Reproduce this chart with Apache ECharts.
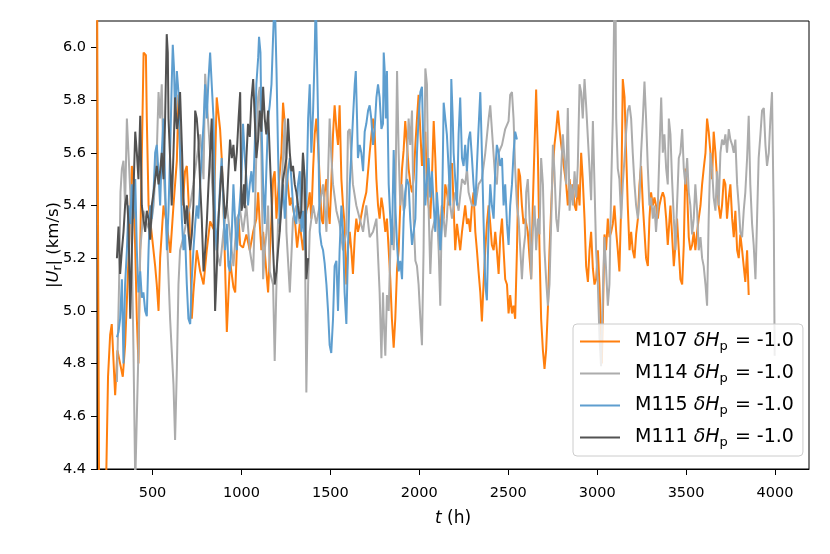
<!DOCTYPE html>
<html>
<head>
<meta charset="utf-8">
<script src="https://cdn.jsdelivr.net/npm/echarts@6/dist/echarts.min.js"></script>
<style>
html, body { margin: 0; padding: 0; background: #fff; }
#chart { width: 830px; height: 554px; }
</style>
</head>
<body>
<div id="chart"></div>
<script>
// [t (h), |U_r| (km/s)]
const m107 = [
  [188, 6.3], [200, 4.3], [238, 4.3], [250, 4.75], [262, 4.91], [271, 4.95], [290, 4.68], [303, 4.85], [318, 4.80], [333, 4.75],
  [346, 4.87], [356, 5.04], [374, 5.35], [384, 5.55], [393, 5.50], [403, 5.23], [412, 4.97], [421, 4.80], [435, 5.40], [450, 5.98],
  [463, 5.97], [468, 5.73], [478, 5.40], [496, 5.29], [515, 5.17], [524, 5.10], [534, 5.00], [543, 5.20], [562, 5.40], [580, 5.33],
  [600, 5.22], [618, 5.40], [637, 5.57], [646, 5.82], [655, 5.60], [670, 5.40], [683, 5.53], [693, 5.55], [708, 5.35], [721, 4.97],
  [730, 5.07], [749, 5.23], [768, 5.15], [787, 5.10], [805, 5.23], [824, 5.34], [843, 5.31], [861, 5.81], [880, 5.69], [890, 5.57],
  [899, 5.40], [908, 5.17], [918, 4.92], [927, 5.06], [936, 5.19], [955, 5.09], [965, 5.07], [974, 5.23], [984, 5.35], [993, 5.25],
  [1009, 5.24], [1028, 5.29], [1047, 5.23], [1066, 5.30], [1084, 5.35], [1094, 5.45], [1103, 5.33], [1112, 5.23], [1122, 5.30], [1140, 5.15],
  [1150, 5.07], [1169, 5.35], [1178, 5.50], [1187, 5.53], [1197, 5.35], [1206, 5.45], [1225, 5.60], [1234, 5.79], [1244, 5.71], [1253, 5.54],
  [1272, 5.40], [1281, 5.43], [1300, 5.35], [1313, 5.24], [1328, 5.33], [1346, 5.23], [1365, 5.38], [1375, 5.40], [1384, 5.45], [1393, 5.35],
  [1403, 5.54], [1412, 5.67], [1421, 5.73], [1431, 5.63], [1440, 5.50], [1450, 5.35], [1459, 5.33], [1468, 5.45], [1478, 5.50], [1487, 5.40],
  [1496, 5.33], [1505, 5.48], [1515, 5.67], [1524, 5.78], [1534, 5.69], [1543, 5.63], [1552, 5.78], [1562, 5.50], [1571, 5.40], [1580, 5.33],
  [1590, 5.10], [1599, 5.23], [1609, 5.30], [1618, 5.23], [1627, 5.14], [1637, 5.28], [1646, 5.35], [1655, 5.30], [1665, 5.33], [1684, 5.40],
  [1702, 5.45], [1721, 5.60], [1740, 5.73], [1749, 5.68], [1759, 5.50], [1768, 5.40], [1777, 5.35], [1787, 5.43], [1796, 5.39], [1809, 5.30],
  [1818, 5.35], [1828, 5.23], [1837, 5.12], [1846, 4.97], [1856, 4.86], [1865, 4.97], [1875, 5.16], [1884, 5.23], [1893, 5.40], [1903, 5.54],
  [1912, 5.61], [1921, 5.72], [1931, 5.63], [1940, 5.54], [1950, 5.48], [1959, 5.45], [1968, 5.50], [1978, 5.63], [1987, 5.73], [1996, 5.82],
  [2006, 5.68], [2015, 5.55], [2024, 5.63], [2034, 5.68], [2043, 5.48], [2052, 5.40], [2062, 5.35], [2071, 5.50], [2081, 5.72], [2090, 5.58],
  [2099, 5.40], [2109, 5.35], [2118, 5.30], [2127, 5.40], [2137, 5.35], [2146, 5.48], [2155, 5.45], [2165, 5.40], [2174, 5.55], [2184, 5.56],
  [2193, 5.40], [2202, 5.23], [2212, 5.33], [2221, 5.28], [2230, 5.23], [2240, 5.30], [2249, 5.35], [2258, 5.40], [2268, 5.33], [2277, 5.35],
  [2286, 5.30], [2296, 5.40], [2305, 5.45], [2315, 5.30], [2324, 5.23], [2333, 5.15], [2343, 5.07], [2352, 4.96], [2361, 5.10], [2371, 5.23],
  [2380, 5.33], [2390, 5.40], [2399, 5.33], [2408, 5.25], [2418, 5.23], [2427, 5.30], [2436, 5.23], [2446, 5.14], [2455, 5.28], [2465, 5.35],
  [2474, 5.23], [2483, 5.12], [2493, 5.10], [2502, 4.99], [2511, 5.06], [2521, 4.99], [2530, 5.02], [2539, 4.97], [2549, 5.23], [2558, 5.54],
  [2567, 5.51], [2577, 5.40], [2586, 5.33], [2596, 5.35], [2610, 5.30], [2620, 5.20], [2629, 5.12], [2638, 5.40], [2648, 5.63], [2657, 5.84],
  [2667, 5.58], [2676, 5.23], [2685, 4.97], [2695, 4.85], [2704, 4.78], [2713, 4.85], [2723, 5.01], [2732, 5.23], [2742, 5.40], [2751, 5.54],
  [2760, 5.63], [2770, 5.69], [2779, 5.76], [2788, 5.69], [2798, 5.63], [2807, 5.58], [2816, 5.53], [2826, 5.48], [2835, 5.40], [2845, 5.50],
  [2854, 5.43], [2863, 5.48], [2873, 5.40], [2882, 5.38], [2891, 5.48], [2901, 5.40], [2910, 5.60], [2919, 5.50], [2929, 5.35], [2938, 5.17],
  [2948, 5.11], [2957, 5.23], [2966, 5.30], [2976, 5.16], [2985, 5.10], [2994, 5.12], [3004, 5.23], [3013, 5.10], [3022, 4.91], [3026, 4.80],
  [3032, 4.97], [3041, 5.29], [3050, 5.23], [3060, 5.35], [3069, 5.28], [3079, 5.30], [3088, 5.33], [3097, 5.40], [3107, 5.30], [3116, 5.23],
  [3125, 5.15], [3135, 5.40], [3144, 5.88], [3154, 5.81], [3163, 5.60], [3172, 5.40], [3182, 5.23], [3191, 5.30], [3200, 5.23], [3210, 5.20],
  [3219, 5.29], [3229, 5.35], [3238, 5.48], [3247, 5.55], [3257, 5.40], [3266, 5.40], [3275, 5.20], [3285, 5.17], [3294, 5.35], [3303, 5.45],
  [3313, 5.40], [3322, 5.43], [3331, 5.40], [3341, 5.35], [3350, 5.40], [3360, 5.43], [3369, 5.45], [3378, 5.43], [3388, 5.35], [3397, 5.25],
  [3412, 5.40], [3421, 5.29], [3431, 5.17], [3440, 5.25], [3449, 5.35], [3459, 5.23], [3468, 5.12], [3478, 5.10], [3487, 5.25], [3496, 5.54],
  [3506, 5.45], [3515, 5.28], [3524, 5.23], [3534, 5.25], [3543, 5.30], [3552, 5.23], [3562, 5.30], [3571, 5.35], [3581, 5.40], [3590, 5.48],
  [3599, 5.54], [3609, 5.60], [3618, 5.73], [3627, 5.68], [3637, 5.60], [3646, 5.50], [3655, 5.68], [3665, 5.60], [3674, 5.50], [3683, 5.40],
  [3693, 5.35], [3702, 5.40], [3712, 5.50], [3721, 5.48], [3730, 5.35], [3740, 5.43], [3749, 5.48], [3759, 5.35], [3768, 5.28], [3777, 5.38],
  [3787, 5.23], [3796, 5.20], [3805, 5.29], [3815, 5.23], [3824, 5.17], [3833, 5.11], [3843, 5.23], [3852, 5.06]
];

const m114 = [
  [300, 4.73], [312, 5.10], [320, 5.45], [328, 5.54], [337, 5.57], [346, 5.40], [356, 5.73], [365, 5.60], [375, 5.45], [384, 5.23],
  [393, 4.85], [403, 4.35], [412, 4.35], [421, 4.85], [431, 5.23], [449, 5.38], [468, 5.33], [487, 5.30], [506, 5.40], [524, 5.60],
  [534, 5.83], [543, 5.73], [552, 5.86], [562, 5.54], [581, 5.29], [599, 4.97], [618, 4.72], [627, 4.51], [637, 4.78], [646, 5.10],
  [655, 5.23], [674, 5.28], [693, 5.35], [712, 5.40], [730, 5.48], [749, 5.58], [768, 5.67], [787, 5.50], [796, 5.90], [805, 5.80],
  [824, 5.60], [843, 5.40], [861, 5.23], [880, 5.17], [899, 5.30], [918, 5.40], [936, 5.29], [955, 5.17], [974, 5.35], [993, 5.38],
  [1009, 5.30], [1028, 5.40], [1047, 5.23], [1066, 5.15], [1075, 5.35], [1084, 5.60], [1094, 5.81], [1103, 5.85], [1112, 5.60], [1122, 5.12],
  [1131, 5.23], [1140, 5.29], [1150, 5.40], [1159, 5.15], [1178, 5.10], [1187, 4.81], [1197, 5.10], [1206, 5.35], [1215, 5.30], [1234, 5.58],
  [1244, 5.73], [1253, 5.30], [1272, 5.07], [1290, 5.35], [1309, 5.40], [1328, 5.33], [1346, 5.60], [1356, 5.35], [1365, 4.69], [1375, 5.10],
  [1384, 5.30], [1403, 5.40], [1421, 5.33], [1440, 5.40], [1459, 5.48], [1478, 5.30], [1496, 5.73], [1506, 5.58], [1515, 5.48], [1534, 5.38],
  [1552, 5.33], [1571, 5.23], [1590, 5.30], [1599, 5.68], [1609, 5.69], [1627, 5.48], [1646, 5.40], [1665, 5.35], [1684, 5.30], [1702, 5.40],
  [1721, 5.28], [1740, 5.30], [1759, 5.35], [1777, 5.07], [1787, 4.82], [1796, 5.07], [1800, 4.97], [1809, 4.83], [1818, 5.06], [1828, 5.00],
  [1837, 5.23], [1846, 5.35], [1856, 5.23], [1865, 5.40], [1875, 5.91], [1884, 5.60], [1893, 5.40], [1903, 5.48], [1912, 5.38], [1921, 5.40],
  [1931, 5.58], [1940, 5.73], [1949, 5.63], [1959, 5.76], [1968, 5.35], [1978, 5.19], [1987, 5.17], [1996, 5.10], [2006, 4.97], [2015, 4.87],
  [2024, 5.23], [2034, 5.92], [2043, 5.86], [2052, 5.40], [2062, 5.14], [2071, 5.30], [2081, 5.33], [2090, 5.33], [2099, 5.38], [2109, 5.23],
  [2118, 5.02], [2127, 5.40], [2137, 5.35], [2146, 5.28], [2155, 5.35], [2165, 5.48], [2174, 5.40], [2184, 5.35], [2193, 5.40], [2202, 5.45],
  [2221, 5.38], [2240, 5.50], [2258, 5.48], [2268, 5.54], [2277, 5.45], [2296, 5.40], [2315, 5.40], [2333, 5.48], [2352, 5.50], [2371, 5.60],
  [2390, 5.73], [2399, 5.78], [2408, 5.69], [2427, 5.50], [2436, 5.48], [2446, 5.60], [2465, 5.63], [2483, 5.69], [2502, 5.72], [2511, 5.82],
  [2521, 5.83], [2530, 5.73], [2539, 5.54], [2549, 5.40], [2558, 5.35], [2568, 5.23], [2577, 5.12], [2586, 5.23], [2596, 5.29], [2601, 5.45],
  [2610, 5.50], [2620, 5.35], [2629, 5.12], [2638, 5.30], [2648, 5.40], [2657, 5.23], [2667, 5.35], [2676, 5.29], [2685, 5.58], [2695, 5.48],
  [2704, 5.23], [2713, 5.12], [2723, 5.02], [2732, 5.10], [2742, 5.35], [2751, 5.63], [2760, 5.53], [2770, 5.35], [2779, 5.30], [2788, 5.40],
  [2798, 5.54], [2807, 5.67], [2816, 5.58], [2826, 5.48], [2835, 5.77], [2845, 5.38], [2854, 5.48], [2863, 5.40], [2873, 5.53], [2882, 5.43],
  [2891, 5.55], [2901, 5.86], [2910, 5.83], [2919, 5.73], [2929, 5.88], [2938, 5.78], [2948, 5.78], [2957, 5.54], [2966, 5.42], [2976, 5.72],
  [2985, 5.48], [2994, 5.23], [3004, 5.10], [3013, 4.90], [3022, 4.79], [3032, 5.07], [3041, 5.28], [3050, 5.16], [3060, 5.02], [3069, 5.10],
  [3079, 5.48], [3088, 5.73], [3097, 6.20], [3103, 6.25], [3107, 5.73], [3116, 5.54], [3125, 5.50], [3135, 5.35], [3144, 5.48], [3154, 5.58],
  [3163, 5.68], [3172, 5.76], [3182, 5.78], [3191, 5.73], [3200, 5.60], [3210, 5.48], [3219, 5.40], [3229, 5.35], [3238, 5.43], [3247, 5.60],
  [3257, 5.73], [3266, 5.87], [3275, 5.73], [3285, 5.54], [3294, 5.40], [3303, 5.43], [3313, 5.35], [3322, 5.40], [3331, 5.30], [3341, 5.40],
  [3350, 5.60], [3360, 5.81], [3369, 5.60], [3378, 5.67], [3388, 5.54], [3397, 5.48], [3403, 5.73], [3412, 5.67], [3421, 5.50], [3431, 5.35],
  [3440, 5.23], [3449, 5.40], [3459, 5.58], [3468, 5.60], [3478, 5.69], [3487, 5.54], [3496, 5.48], [3506, 5.58], [3515, 5.45], [3524, 5.40],
  [3534, 5.29], [3543, 5.35], [3552, 5.48], [3562, 5.38], [3571, 5.23], [3581, 5.28], [3590, 5.20], [3599, 5.17], [3609, 5.10], [3618, 5.02],
  [3627, 5.35], [3637, 5.60], [3646, 5.54], [3655, 5.43], [3665, 5.38], [3674, 5.53], [3683, 5.40], [3693, 5.60], [3702, 5.65], [3712, 5.63],
  [3721, 5.67], [3730, 5.60], [3740, 5.69], [3749, 5.65], [3759, 5.63], [3768, 5.60], [3777, 5.65], [3787, 5.48], [3796, 5.40], [3805, 5.30],
  [3815, 5.28], [3824, 5.38], [3833, 5.45], [3843, 5.58], [3852, 5.74], [3861, 5.48], [3871, 5.33], [3880, 5.25], [3890, 5.12], [3899, 5.35],
  [3908, 5.58], [3918, 5.67], [3927, 5.76], [3937, 5.77], [3946, 5.63], [3955, 5.55], [3965, 5.60], [3974, 5.73], [3983, 5.83], [3993, 5.35],
  [3998, 4.83]
];

const m115 = [
  [300, 4.90], [309, 4.92], [318, 4.97], [328, 5.12], [337, 4.80], [346, 5.10], [356, 5.23], [365, 5.40], [375, 5.33], [384, 5.48],
  [393, 5.35], [403, 5.50], [412, 5.23], [421, 5.07], [431, 5.15], [440, 5.05], [449, 5.07], [459, 5.00], [468, 4.98], [478, 5.23],
  [487, 5.40], [496, 5.35], [506, 5.45], [515, 5.60], [524, 5.63], [534, 5.52], [543, 5.40], [552, 5.60], [562, 5.73], [571, 5.48],
  [581, 5.23], [590, 5.38], [599, 5.60], [608, 5.86], [614, 6.01], [621, 5.92], [627, 5.73], [637, 5.91], [646, 5.83], [655, 5.60],
  [665, 5.35], [674, 5.23], [683, 5.29], [693, 5.10], [702, 4.97], [712, 4.95], [721, 5.12], [730, 5.23], [740, 5.33], [749, 5.40],
  [758, 5.35], [768, 5.48], [777, 5.60], [787, 5.71], [796, 5.86], [805, 5.73], [815, 5.88], [824, 5.98], [833, 5.86], [843, 5.73],
  [852, 5.35], [861, 5.23], [871, 5.35], [880, 5.48], [889, 5.58], [899, 5.40], [908, 5.23], [918, 5.33], [927, 5.17], [936, 5.15],
  [946, 5.30], [955, 5.48], [965, 5.33], [974, 5.23], [984, 5.35], [993, 5.43], [1000, 5.50], [1009, 5.71], [1019, 5.58], [1028, 5.50],
  [1037, 5.40], [1047, 5.48], [1056, 5.53], [1066, 5.45], [1075, 5.63], [1084, 5.86], [1094, 5.96], [1099, 6.04], [1107, 5.98], [1112, 5.73],
  [1122, 5.48], [1131, 5.33], [1140, 5.53], [1150, 5.73], [1159, 5.78], [1169, 5.86], [1178, 6.04], [1187, 6.20], [1197, 5.92], [1206, 5.60],
  [1215, 5.33], [1225, 5.40], [1234, 5.48], [1244, 5.35], [1253, 5.45], [1262, 5.53], [1272, 5.58], [1281, 5.50], [1290, 5.40], [1300, 5.35],
  [1309, 5.33], [1318, 5.48], [1328, 5.53], [1337, 5.30], [1346, 5.38], [1356, 5.23], [1365, 5.40], [1375, 5.73], [1384, 5.86], [1393, 5.60],
  [1403, 5.76], [1412, 5.98], [1418, 6.20], [1425, 6.20], [1431, 5.73], [1440, 5.30], [1450, 5.25], [1459, 5.23], [1468, 5.18], [1478, 5.10],
  [1487, 5.00], [1496, 4.87], [1505, 4.84], [1515, 4.97], [1524, 5.17], [1534, 5.19], [1543, 5.00], [1552, 5.23], [1562, 5.40], [1571, 5.30],
  [1580, 5.07], [1590, 4.95], [1599, 5.23], [1609, 5.48], [1618, 5.60], [1627, 5.73], [1637, 5.86], [1643, 5.91], [1650, 5.73], [1655, 5.58],
  [1665, 5.63], [1674, 5.60], [1684, 5.53], [1693, 5.68], [1702, 5.71], [1712, 5.76], [1721, 5.78], [1730, 5.73], [1740, 5.63], [1749, 5.69],
  [1759, 5.81], [1768, 5.86], [1777, 5.81], [1787, 5.69], [1796, 5.71], [1800, 5.98], [1805, 5.92], [1812, 5.73], [1818, 5.91], [1828, 5.48],
  [1837, 5.35], [1846, 5.25], [1856, 5.61], [1865, 5.40], [1875, 5.25], [1884, 5.15], [1893, 5.19], [1903, 5.12], [1912, 5.35], [1921, 5.45],
  [1931, 5.50], [1940, 5.48], [1949, 5.35], [1959, 5.25], [1968, 5.30], [1978, 5.35], [1987, 5.60], [1996, 5.73], [2006, 5.83], [2015, 5.85],
  [2024, 5.60], [2034, 5.40], [2043, 5.50], [2052, 5.58], [2062, 5.43], [2071, 5.53], [2081, 5.40], [2090, 5.30], [2099, 5.45], [2109, 5.35],
  [2118, 5.23], [2127, 5.33], [2137, 5.79], [2146, 5.73], [2155, 5.67], [2165, 5.54], [2174, 5.40], [2180, 5.88], [2188, 5.73], [2193, 5.60],
  [2202, 5.50], [2212, 5.40], [2221, 5.67], [2230, 5.81], [2240, 5.58], [2249, 5.55], [2258, 5.63], [2268, 5.53], [2277, 5.65], [2286, 5.68],
  [2296, 5.58], [2305, 5.48], [2315, 5.40], [2324, 5.55], [2333, 5.69], [2343, 5.83], [2352, 5.60], [2361, 5.35], [2371, 5.10], [2380, 5.04],
  [2390, 5.33], [2399, 5.48], [2408, 5.40], [2418, 5.35], [2427, 5.53], [2436, 5.63], [2446, 5.60], [2455, 5.55], [2465, 5.58], [2474, 5.40],
  [2483, 5.48], [2493, 5.33], [2502, 5.25], [2511, 5.40], [2521, 5.48], [2530, 5.60], [2539, 5.68], [2549, 5.65]
];

const m111 = [
  [300, 5.20], [309, 5.32], [318, 5.14], [328, 5.23], [337, 5.30], [346, 5.40], [356, 5.44], [365, 5.33], [375, 4.97], [384, 5.23],
  [393, 5.45], [403, 5.68], [412, 5.60], [421, 5.50], [431, 5.74], [440, 5.40], [449, 5.35], [459, 5.30], [468, 5.38], [478, 5.35],
  [487, 5.27], [496, 5.40], [506, 5.45], [515, 5.50], [524, 5.55], [534, 5.48], [543, 5.53], [552, 5.60], [562, 5.50], [571, 5.73],
  [580, 6.05], [586, 5.98], [590, 5.73], [599, 5.58], [608, 5.40], [618, 5.60], [627, 5.81], [637, 5.69], [646, 5.73], [655, 5.83],
  [665, 5.63], [674, 5.43], [683, 5.33], [693, 5.40], [702, 5.30], [712, 5.23], [721, 5.29], [730, 5.40], [740, 5.76], [749, 5.73],
  [758, 5.65], [768, 5.48], [777, 5.35], [787, 5.15], [796, 5.23], [805, 5.33], [815, 5.48], [824, 5.60], [833, 5.73], [843, 5.40],
  [852, 5.00], [861, 5.15], [871, 5.35], [880, 5.45], [889, 5.55], [899, 5.45], [908, 5.35], [918, 5.40], [927, 5.53], [936, 5.65],
  [946, 5.58], [955, 5.63], [965, 5.53], [974, 5.60], [984, 5.73], [993, 5.83], [1000, 5.38], [1006, 5.40], [1014, 5.48], [1019, 5.39],
  [1028, 5.58], [1037, 5.71], [1047, 5.66], [1056, 5.80], [1066, 5.88], [1075, 5.73], [1084, 5.58], [1094, 5.65], [1103, 5.76], [1112, 5.68],
  [1122, 5.85], [1131, 5.73], [1140, 5.67], [1150, 5.76], [1159, 5.60], [1169, 5.43], [1178, 5.23], [1187, 5.10], [1197, 5.15], [1206, 5.23],
  [1215, 5.30], [1225, 5.40], [1234, 5.50], [1244, 5.54], [1253, 5.58], [1262, 5.73], [1272, 5.60], [1281, 5.53], [1290, 5.55], [1300, 5.48],
  [1309, 5.45], [1318, 5.40], [1328, 5.35], [1337, 5.38], [1346, 5.60], [1356, 5.50], [1365, 5.12], [1375, 5.20]
];

const seriesNames = ['M107', 'M114', 'M115', 'M111'];
const seriesColors = ['#ff7f0e', '#acacac', '#5e9ecf', '#525252'];
const xTicks = [500, 1000, 1500, 2000, 2500, 3000, 3500, 4000];
const yTicks = [4.4, 4.6, 4.8, 5.0, 5.2, 5.4, 5.6, 5.8, 6.0];

const font = 'DejaVu Sans';
const chart = echarts.init(document.getElementById('chart'));

const lineOf = (name, data, color) => ({
  name,
  type: 'line',
  data,
  symbol: 'none',
  showSymbol: false,
  clip: true,
  lineStyle: { color, width: 2 },
  itemStyle: { color },
});

chart.setOption({
  animation: false,
  grid: {
    left: 97,
    right: 21,
    top: 21,
    bottom: 85,
    show: true,
    borderColor: '#000',
    borderWidth: 1,
  },
  legend: {
    orient: 'vertical',
    left: 573,
    top: 324,
    backgroundColor: 'rgba(255,255,255,0.8)',
    borderColor: '#cccccc',
    borderWidth: 1,
    borderRadius: 4,
    padding: [6, 9, 7, 7],
    itemWidth: 40,
    itemHeight: 2,
    itemGap: 9,
    icon: 'rect',
    data: seriesNames,
    formatter: name => `{a|${name} }{i|δH}{s|p}{a| = -1.0}`,
    textStyle: {
      color: '#000',
      fontFamily: font,
      fontSize: 19,
      padding: [0, 0, 0, 10],
      rich: {
        a: { fontFamily: font, fontSize: 19, color: '#000', lineHeight: 24 },
        i: { fontFamily: font, fontSize: 19, fontStyle: 'italic', color: '#000', lineHeight: 24 },
        s: { fontFamily: font, fontSize: 13, color: '#000', padding: [10, 1, 0, 0], lineHeight: 24 },
      },
    },
  },
  xAxis: {
    type: 'value',
    min: 188,
    max: 4191,
    axisLine: { show: true, onZero: false, lineStyle: { color: '#000', width: 1 } },
    axisTick: { show: true, length: 6, customValues: xTicks, lineStyle: { color: '#000', width: 1 } },
    axisLabel: {
      customValues: xTicks,
      color: '#000',
      fontFamily: font,
      fontSize: 14.5,
      margin: 17,
      formatter: v => String(v),
    },
    splitLine: { show: false },
    name: '{i|t} (h)',
    nameLocation: 'middle',
    nameGap: 41,
    nameMoveOverlap: false,
    nameTextStyle: {
      color: '#000',
      fontFamily: font,
      fontSize: 17,
      rich: {
        a: { fontFamily: font, fontSize: 17, color: '#000' },
        i: { fontFamily: font, fontSize: 17, fontStyle: 'italic', color: '#000' },
      },
    },
  },
  yAxis: {
    type: 'value',
    min: 4.4,
    max: 6.1,
    axisLine: { show: true, onZero: false, lineStyle: { color: '#000', width: 1 } },
    axisTick: { show: true, length: 6, customValues: yTicks, lineStyle: { color: '#000', width: 1 } },
    axisLabel: {
      customValues: yTicks,
      color: '#000',
      fontFamily: font,
      fontSize: 14.5,
      margin: 11,
      formatter: v => v.toFixed(1),
    },
    splitLine: { show: false },
    name: '{a||}{i|U}{s|r}{a|| (km/s)}',
    nameLocation: 'middle',
    nameGap: 33,
    nameMoveOverlap: false,
    nameTextStyle: {
      color: '#000',
      fontFamily: font,
      fontSize: 16.5,
      rich: {
        a: { fontFamily: font, fontSize: 16.5, color: '#000' },
        i: { fontFamily: font, fontSize: 16.5, fontStyle: 'italic', color: '#000' },
        s: { fontFamily: font, fontSize: 12, color: '#000', padding: [8, 0, 0, 0] },
      },
    },
  },
  series: [
    lineOf(seriesNames[0], m107, seriesColors[0]),
    lineOf(seriesNames[1], m114, seriesColors[1]),
    lineOf(seriesNames[2], m115, seriesColors[2]),
    lineOf(seriesNames[3], m111, seriesColors[3]),
  ],
});
</script>
</body>
</html>
